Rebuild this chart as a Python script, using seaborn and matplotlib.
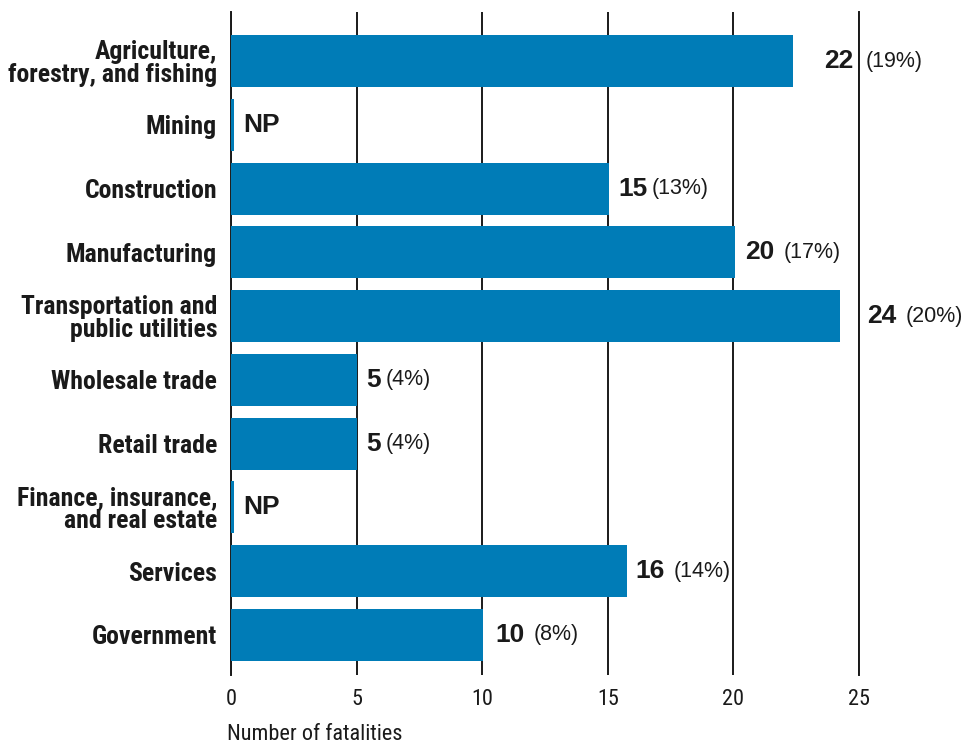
import matplotlib
matplotlib.use("Agg")
import matplotlib.pyplot as plt
import seaborn as sns
import pandas as pd
from matplotlib import font_manager as fm

# ---- data ----
categories = ["Agriculture,\nforestry, and fishing", "Mining", "Construction", "Manufacturing",
              "Transportation and\npublic utilities", "Wholesale trade", "Retail trade",
              "Finance, insurance,\nand real estate", "Services", "Government"]
bar_lengths = [22.36, 0.1, 15.05, 20.06, 24.24, 5.0, 5.0, 0.1, 15.75, 10.02]
count_labels = ["22", "NP", "15", "20", "24", "5", "5", "NP", "16", "10"]
pct_labels = ["(19%)", "", "(13%)", "(17%)", "(20%)", "(4%)", "(4%)", "", "(14%)", "(8%)"]
x_ticks = [0, 5, 10, 15, 20, 25]
x_title = "Number of fatalities"

# layout (pixel gaps)
label_gap_px = [31, 10, 9, 10, 27, 10, 10, 10, 9, 13]
pct_gap_px = [13, 0, 4, 9, 9, 4, 4, 0, 9, 9]

sns.set_theme(style="white")
avail = {f.name for f in fm.fontManager.ttflist}
narrow = "DejaVu Sans"
for cand in ["Roboto Condensed", "Archivo Narrow", "PT Sans Narrow", "Asap Condensed", "Liberation Sans Narrow"]:
    if cand in avail:
        narrow = cand
        break
plt.rcParams["font.family"] = [narrow, "DejaVu Sans"]

BLUE = "#007CB7"
INK = "#1a1a1a"

df = pd.DataFrame({"cat": categories, "val": bar_lengths})

fig = plt.figure(figsize=(9.68, 7.44), dpi=100)
ax = fig.add_axes([231/968, 1-675/744, (859-231)/968, (675-12)/744])

sns.barplot(data=df, x="val", y="cat", orient="h", color=BLUE, saturation=1,
            width=0.815, ax=ax, zorder=3, linewidth=0)

ax.set_xlim(0, 25)
ax.set_ylim(9.63, -0.77)
ax.set_xticks(x_ticks)
ax.set_xticklabels([str(t) for t in x_ticks], fontsize=16, color=INK, family=[narrow, "DejaVu Sans"])
ax.tick_params(axis="x", length=0, pad=10)
ax.tick_params(axis="y", length=0, pad=10)
for lab in ax.get_yticklabels():
    lab.set_fontsize(18.5)
    lab.set_fontweight("bold")
    lab.set_family([narrow, "DejaVu Sans"])
    lab.set_color(INK)
    lab.set_linespacing(0.95)
ax.set_xlabel("")
ax.set_ylabel("")

for s in ["top", "bottom"]:
    ax.spines[s].set_visible(False)
for s in ["left", "right"]:
    ax.spines[s].set_visible(True)
    ax.spines[s].set_color(INK)
    ax.spines[s].set_linewidth(1.4)
ax.xaxis.grid(True, color=INK, linewidth=1.4)
ax.yaxis.grid(False)
ax.set_axisbelow(True)

for i, (v, c, p) in enumerate(zip(bar_lengths, count_labels, pct_labels)):
    t = ax.annotate(c, xy=(v, i), xytext=(label_gap_px[i]*0.72, 0), textcoords="offset points",
                    ha="left", va="center", fontsize=19, fontweight="bold", color=INK,
                    family=["Liberation Sans", "DejaVu Sans"], annotation_clip=False)
    if p:
        ax.annotate(p, xy=(1, 0.5), xycoords=t, xytext=(pct_gap_px[i]*0.72, 0),
                    textcoords="offset points", ha="left", va="center",
                    fontsize=15.5, color=INK, family=["Liberation Sans", "DejaVu Sans"],
                    annotation_clip=False)

fig.text(227/968, 1-735/744, x_title, ha="left", va="center", fontsize=16, color=INK,
         family=[narrow, "DejaVu Sans"])

fig.savefig("out.png", dpi=100)
